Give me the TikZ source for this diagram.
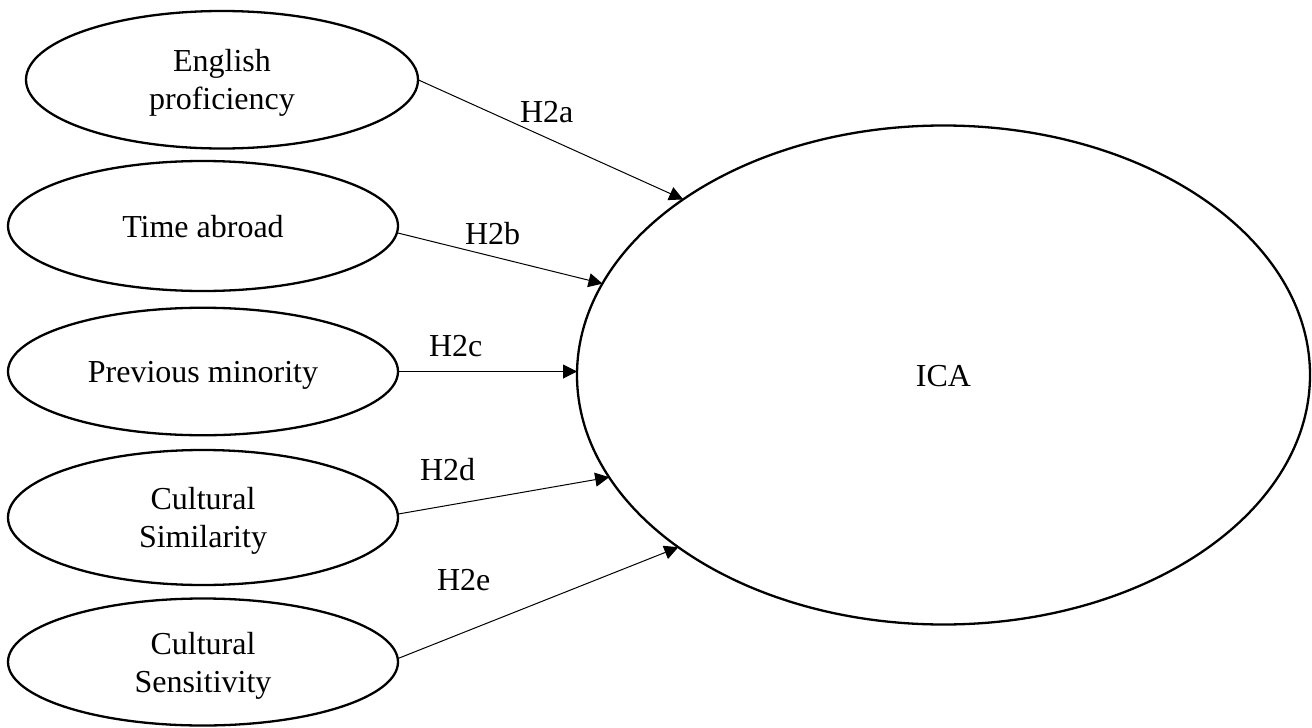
\documentclass[tikz,border=0pt]{standalone}
\usepackage{fontspec}
\setmainfont{Liberation Serif}
\usetikzlibrary{arrows.meta,shapes.geometric}
\begin{document}
\begin{tikzpicture}[x=1pt,y=-1pt,
  every node/.style={font=\fontsize{32}{38}\selectfont, text=black},
  oval/.style={ellipse, draw, line width=2.3pt, inner sep=0pt, outer sep=0pt, align=center},
  oneline/.style={text height=22pt, text depth=0pt},
  twoline/.style={text depth=0pt},
  link/.style={-{Triangle[length=14pt,width=14pt]}, line width=1pt},
  hyp/.style={anchor=base west, inner sep=0pt, outer sep=0pt}]
\useasboundingbox (0,0) rectangle (1312,728);
\node[oval, twoline, minimum width=392pt, minimum height=137.5pt] (E1) at (222,79.75) {English\\proficiency};
\node[oval, oneline, minimum width=390pt, minimum height=130pt] (E2) at (203,226) {Time abroad};
\node[oval, oneline, minimum width=390pt, minimum height=127.5pt] (E3) at (203,371.5) {Previous minority};
\node[oval, twoline, minimum width=390pt, minimum height=135pt] (E4) at (203,517.5) {Cultural\\Similarity};
\node[oval, twoline, minimum width=390pt, minimum height=127pt] (E5) at (203,662) {Cultural\\Sensitivity};
\node[oval, oneline, minimum width=733pt, minimum height=499pt] (ICA) at (943.5,375) {ICA};
\draw[link] (E1.east) -- (ICA.146.9);
\draw[link] (E2.-2) -- (ICA.165.9);
\draw[link] (E3.east) -- (E3.east -| ICA.west);
\draw[link] (E4.1.3) -- (ICA.197.3);
\draw[link] (E5.1.5) -- (ICA.213);
\node[hyp] (L1) at (520,122.7) {H2a};
\node[hyp] (L2) at (465,244) {H2b};
\node[hyp] (L3) at (429,356.7) {H2c};
\node[hyp] (L4) at (420,480.7) {H2d};
\node[hyp] (L5) at (437,590.7) {H2e};
\end{tikzpicture}
\end{document}
